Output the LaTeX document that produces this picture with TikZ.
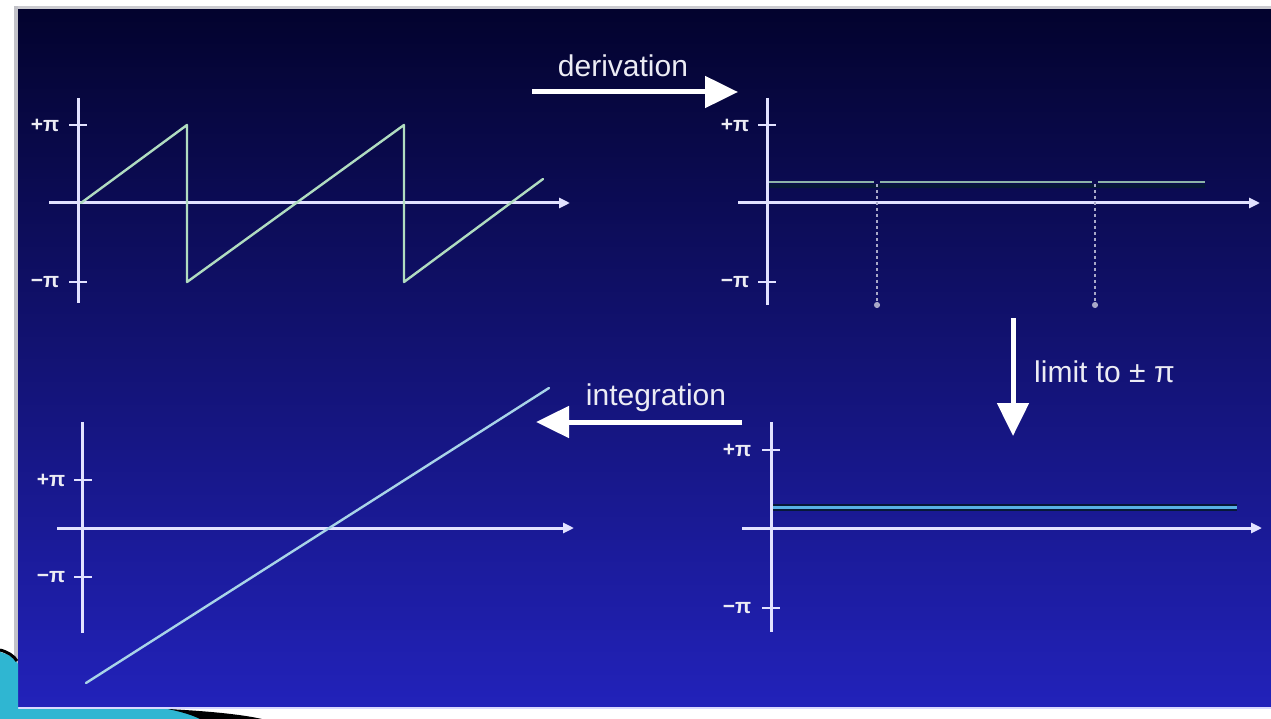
\documentclass[tikz,border=0pt]{standalone}
\usepackage{fontspec}
\setmainfont{Liberation Sans}
\usetikzlibrary{arrows.meta}
\definecolor{bgtop}{HTML}{03032E}
\definecolor{bgmid}{HTML}{10108E}
\definecolor{bgbot}{HTML}{2222BA}
\definecolor{axiscol}{HTML}{E2E2FF}
\definecolor{sawcol}{HTML}{B0DCC0}
\definecolor{stepcol}{HTML}{8CB4A8}
\definecolor{dotcol}{HTML}{A8A8C8}
\definecolor{rampcol}{HTML}{A8D4E8}
\definecolor{limcol}{HTML}{58B0E6}
\definecolor{shadowcol}{HTML}{061838}
\definecolor{txtcol}{HTML}{ECECF4}
\definecolor{decocyan}{HTML}{2FB6D2}
\definecolor{framecol}{HTML}{A8A8B0}
\tikzset{
  axisline/.style={draw=axiscol, line width=3pt},
  xaxis/.style={axisline, -{Triangle[length=11pt 0,width=10pt 0]}},
  tickmark/.style={draw=axiscol, line width=2.2pt},
  ticklbl/.style={text=txtcol, font=\fontsize{21}{21}\selectfont\bfseries, inner sep=0pt, anchor=center},
  biglbl/.style={text=txtcol, font=\fontsize{30}{30}\selectfont, inner sep=0pt},
  bigarrow/.style={draw=white, line width=5pt, -{Triangle[length=33pt 0,width=31pt 0]}},
  curveline/.style={line width=2.4pt, line cap=round, line join=round},
}
\begin{document}
\begin{tikzpicture}[x=1pt,y=-1pt]
\useasboundingbox (0,0) rectangle (1271,719);
\fill[white] (0,0) rectangle (1271,719);
% frame
\fill[framecol!60] (14,6) rectangle (1271,10);
\fill[framecol!70] (14,6) rectangle (18,708);
% panel
\shade[top color=bgtop, middle color=bgmid, bottom color=bgbot] (18,10) rectangle (1271,708);
\fill[white!85!blue] (18,707) rectangle (1271,709);
% bottom-left decoration
\fill[decocyan] (0,652) .. controls (8,654) and (15,658) .. (18,664) -- (18,709) -- (172,709) .. controls (185,712) and (200,716) .. (210,719) -- (0,719) -- cycle;
\draw[black, line width=3pt] (0,650) .. controls (8,652) and (14,656) .. (17,661);
\fill[black] (168,709) .. controls (205,711) and (240,714) .. (262,719) -- (200,719) .. controls (192,715) and (182,712) .. (168,709) -- cycle;

% ===== plot 1 (top-left) =====
\draw[axisline] (78,98) -- (78,303);
\draw[xaxis] (49,203) -- (570,203);
\draw[tickmark] (69,125) -- (87,125);
\draw[tickmark] (69,282) -- (87,282);
\node[ticklbl] (p1hi) at (45,125) {+π};
\node[ticklbl] (p1lo) at (45,282) {−π};
\draw[sawcol, curveline] (81,203) -- (187,125) -- (187,282) -- (404,125) -- (404,282) -- (543,179);

% ===== plot 2 (top-right) =====
\draw[axisline] (767,98) -- (767,305);
\draw[xaxis] (738,203) -- (1260,203);
\draw[tickmark] (758,125) -- (776,125);
\draw[tickmark] (758,282) -- (776,282);
\node[ticklbl] (p2hi) at (735,125) {+π};
\node[ticklbl] (p2lo) at (735,282) {−π};
\draw[shadowcol, line width=4pt] (769,186) -- (1205,186);
\draw[stepcol, line width=2.6pt] (769,182) -- (874,182) (880,182) -- (1092,182) (1098,182) -- (1205,182);
\draw[dotcol, line width=1.6pt, dash pattern=on 3pt off 3pt, -{Circle[length=6pt 0]}] (877,184) -- (877,308);
\draw[dotcol, line width=1.6pt, dash pattern=on 3pt off 3pt, -{Circle[length=6pt 0]}] (1095,184) -- (1095,308);

% ===== plot 3 (bottom-left) =====
\draw[axisline] (82,422) -- (82,633);
\draw[xaxis] (57,528) -- (574,528);
\draw[tickmark] (74,480) -- (92,480);
\draw[tickmark] (74,577) -- (92,577);
\node[ticklbl] (p3hi) at (51,480) {+π};
\node[ticklbl] (p3lo) at (51,577) {−π};
\draw[rampcol, curveline] (86,683) -- (549,388);

% ===== plot 4 (bottom-right) =====
\draw[axisline] (771,422) -- (771,632);
\draw[xaxis] (742,528) -- (1262,528);
\draw[tickmark] (762,450) -- (780,450);
\draw[tickmark] (762,608) -- (780,608);
\node[ticklbl] (p4hi) at (737,450) {+π};
\node[ticklbl] (p4lo) at (737,608) {−π};
\draw[shadowcol, line width=7pt] (773,507) -- (1237,507);
\draw[limcol, line width=3pt] (773,507) -- (1237,507);

% ===== transition arrows =====
\coordinate (d1) at (532,92);
\coordinate (d2) at (738,92);
\draw[bigarrow] (d1) -- (d2);
\node[biglbl, anchor=base] (dlbl) at (623,77) {derivation};

\coordinate (l1) at (1013,318);
\coordinate (l2) at (1013,436);
\draw[bigarrow] (l1) -- (l2);
\node[biglbl, anchor=base west] (llbl) at (1034,382) {limit to ± π};

\coordinate (i1) at (742,422);
\coordinate (i2) at (536,422);
\draw[bigarrow] (i1) -- (i2);
\node[biglbl, anchor=base] (ilbl) at (656,405) {integration};
\end{tikzpicture}
\end{document}
